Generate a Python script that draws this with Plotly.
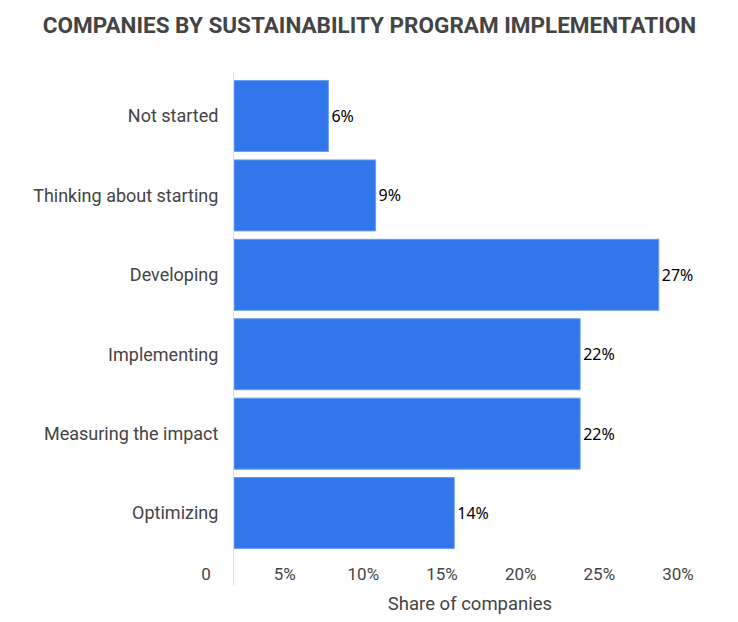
import plotly.graph_objects as go

categories = ["Not started", "Thinking about starting", "Developing",
              "Implementing", "Measuring the impact", "Optimizing"]
shares = [6, 9, 27, 22, 22, 14]
value_labels = ["6%", "9%", "27%", "22%", "22%", "14%"]
tick_values = [0, 5, 10, 15, 20, 25, 30]
tick_labels = ["0", "5%", "10%", "15%", "20%", "25%", "30%"]

W, H = 730, 614
ML, MR, MT, MB = 226, 31.5, 64, 37

fig = go.Figure(go.Bar(
    x=shares, y=categories, orientation="h",
    marker=dict(color="#3176EB", line=dict(color="#6C9DF0", width=1)),
    text=value_labels, textposition="outside", cliponaxis=False,
    textfont=dict(family="Noto Sans", size=16, color="#000000"),
    width=0.894,
))

fig.update_layout(
    width=W, height=H,
    margin=dict(l=ML, r=MR, t=MT, b=MB, pad=0),
    paper_bgcolor="white", plot_bgcolor="white",
    title=dict(text="<b>COMPANIES BY SUSTAINABILITY PROGRAM IMPLEMENTATION</b>",
               x=361.5 / W, xref="container", xanchor="center",
               y=1 - 17 / H, yref="container", yanchor="middle",
               font=dict(family="Roboto", size=22.5, color="#444444")),
    showlegend=False,
    bargap=0.106,
)

fig.update_xaxes(
    range=[0, 30], anchor="free", position=0.045,
    tickvals=tick_values, ticktext=tick_labels,
    showgrid=False, zeroline=False, showline=False, ticks="",
    ticklabelshift=-28,
    tickfont=dict(family="Roboto", size=17, color="#444444"),
    title=dict(text="Share of companies", standoff=14,
               font=dict(family="Roboto", size=18.5, color="#444444")),
)
fig.update_yaxes(
    categoryorder="array", categoryarray=categories,
    range=[5.906, -0.554],
    showgrid=False, zeroline=False,
    showline=True, linecolor="#DDDDDD", linewidth=1,
    ticks="", ticklabelstandoff=11,
    tickfont=dict(family="Roboto", size=18, color="#444444"),
)

fig.write_html("out.html")
